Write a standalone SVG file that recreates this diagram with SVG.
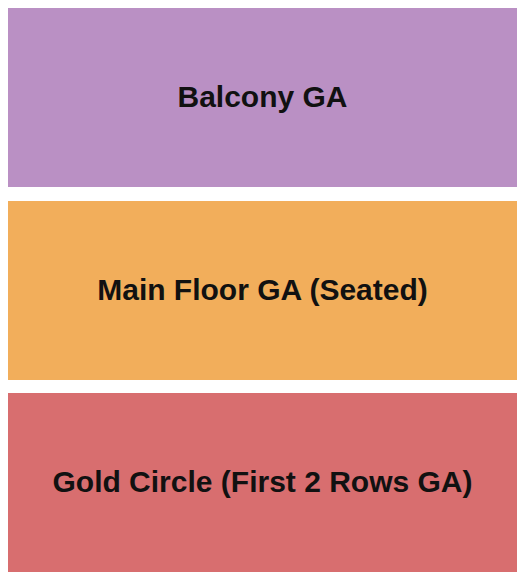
<svg xmlns="http://www.w3.org/2000/svg" width="525" height="580" viewBox="0 0 525 580">
<style>
.sec{stroke:none}
.lbl{font-family:"Liberation Sans",Arial,sans-serif;font-weight:bold;font-size:30px;fill:#111111;text-anchor:middle}
</style>
<rect width="525" height="580" fill="#ffffff"/>
<g id="balcony">
<rect class="sec" x="8" y="8" width="509" height="179" fill="#BA90C4"/>
<text class="lbl" x="262.5" y="107">Balcony GA</text>
</g>
<g id="main-floor">
<rect class="sec" x="8" y="201" width="509" height="179" fill="#F2AE5B"/>
<text class="lbl" x="262.5" y="300">Main Floor GA (Seated)</text>
</g>
<g id="gold-circle">
<rect class="sec" x="8" y="393" width="509" height="179" fill="#D86E6F"/>
<text class="lbl" x="262.5" y="492">Gold Circle (First 2 Rows GA)</text>
</g>
<g id="connectors"></g>
</svg>
